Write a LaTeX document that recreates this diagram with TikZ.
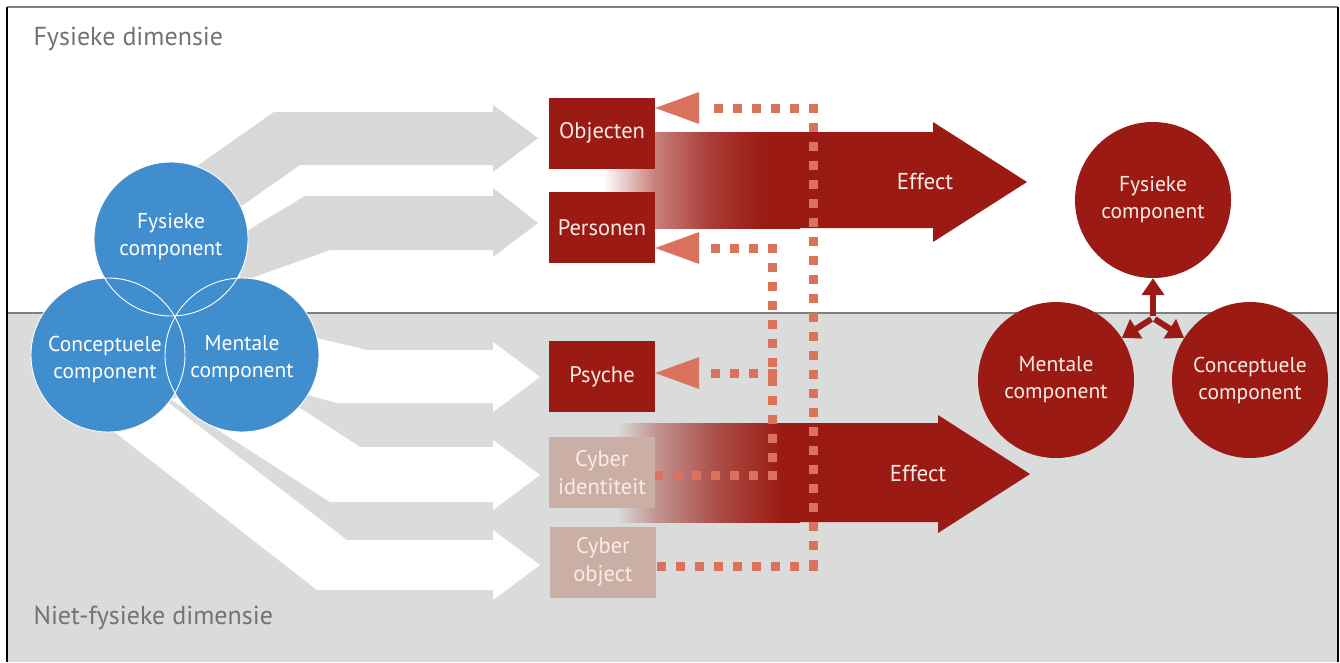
\documentclass[tikz,border=0pt]{standalone}
\usepackage{fontspec}
\setmainfont{PT Sans}
\usetikzlibrary{arrows.meta,calc}
\definecolor{bgray}{RGB}{218,219,219}
\definecolor{agray}{RGB}{216,216,216}
\definecolor{cblue}{RGB}{64,142,206}
\definecolor{dred}{RGB}{155,26,19}
\definecolor{salm}{RGB}{219,114,94}
\definecolor{cyb}{RGB}{203,174,164}
\definecolor{ttxt}{RGB}{115,115,115}
\definecolor{btxt}{RGB}{250,236,230}
\pgfdeclarehorizontalshading{fadewhite}{100bp}{color(0bp)=(white); color(25bp)=(white); color(38bp)=(dred!55!white); color(52bp)=(dred!85!white); color(66bp)=(dred); color(100bp)=(dred)}
\pgfdeclarehorizontalshading{fadegray}{100bp}{color(0bp)=(bgray); color(25bp)=(bgray); color(35bp)=(dred!35!bgray); color(53bp)=(dred!75!bgray); color(70bp)=(dred); color(100bp)=(dred)}
\begin{document}
\begin{tikzpicture}[x=1pt,y=-1pt,
  bluecirc/.style={circle, fill=cblue, minimum size=154pt, inner sep=0pt},
  bluetxt/.style={text=white, align=center, font=\fontsize{21.5}{27}\selectfont},
  redcirc/.style={circle, fill=dred, minimum size=156pt, inner sep=0pt, text=btxt, align=center, font=\fontsize{21.5}{27}\selectfont},
  redbox/.style={fill=dred, minimum width=106pt, minimum height=71pt, inner sep=0pt, text=btxt, align=center, font=\fontsize{22.5}{28}\selectfont},
  cybbox/.style={redbox, fill=cyb},
  dotline/.style={draw=salm, line width=9pt, dash pattern=on 9pt off 10pt},
  dimtxt/.style={anchor=base west, text=ttxt, font=\fontsize{26}{30}\selectfont},
  efftxt/.style={text=btxt, font=\fontsize{23}{28}\selectfont},
  triarrow/.style={draw=dred, line width=6pt, -{Triangle[length=17pt,width=22pt]}, shorten <=2pt}
]
\useasboundingbox (0,0) rectangle (1340,662);
\fill[white] (0,0) rectangle (1340,662);
% lower region
\fill[bgray] (7,313) rectangle (1338,662);
\draw[gray, line width=1.3pt] (7,313) -- (1338,313);

% left bands (upper, gray)
\fill[agray] (180,178) -- (274,112) -- (493,112) -- (493,105) -- (538,138) -- (493,172) -- (493,165) -- (300,165) -- (200,235) -- cycle;
\fill[agray] (240,235) -- (305,196) -- (493,196) -- (493,188) -- (538,223) -- (493,257) -- (493,250) -- (330,250) -- (240,282) -- cycle;
% left bands (lower, white)
\fill[white] (300,334) -- (367,350) -- (493,350) -- (493,342) -- (540,377) -- (493,412) -- (493,403) -- (337,403) -- (290,390) -- cycle;
\fill[white] (260,382) -- (360,447) -- (493,447) -- (493,440) -- (540,475) -- (493,510) -- (493,502) -- (330,502) -- (170,399) -- cycle;
\fill[white] (165,400) -- (347,540) -- (493,540) -- (493,530) -- (540,565) -- (493,600) -- (493,590) -- (317,590) -- (108,427) -- cycle;

% blue circles
\node[bluecirc] (bF) at (171,239) {};
\node[bluecirc] (bC) at (108,355) {};
\node[bluecirc] (bM) at (242,355) {};
\draw[white, line width=0.9pt] (bF.center) circle[radius=77pt] (bC.center) circle[radius=77pt] (bM.center) circle[radius=77pt];
\node[bluetxt] at (171,237) {Fysieke\\component};
\node[bluetxt] at (105,359) {Conceptuele\\component};
\node[bluetxt] at (242,359) {Mentale\\component};

% effect arrows
\fill[dred] (603,132) -- (933,132) -- (933,122) -- (1027,182) -- (933,242) -- (933,228) -- (603,228) -- cycle;
\shade[shading=fadewhite] (603,132) rectangle (800,228);
\fill[dred] (617,423) -- (938,423) -- (938,415) -- (1030,474) -- (938,533) -- (938,522) -- (617,522) -- cycle;
\shade[shading=fadegray] (617,423) rectangle (800,522);
\node[efftxt] (e1) at (925,182) {Effect};
\node[efftxt] (e2) at (918,474) {Effect};

% boxes
\node[redbox] (obj) at (602,133) {Objecten};
\node[redbox] (pers) at (602,227.5) {Personen};
\node[redbox] (psy) at (602,376.5) {Psyche};
\node[cybbox] (cid) at (602,472.5) {Cyber\\identiteit};
\node[cybbox] (cob) at (603,562) {Cyber\\object};

% dotted feedback lines
\coordinate (v1t) at (813,108);
\coordinate (v1b) at (813,566);
\coordinate (v2t) at (772,248);
\coordinate (v2b) at (772,475);
\draw[dotline] ($(v1t)+(0,-4.5)$) -- ($(v1b)+(0,4.5)$);
\draw[dotline] ($(v2t)+(0,-4.5)$) -- ($(v2b)+(0,4.5)$);
\draw[dotline] ($(v1t)+(4.5,0)$) -- ($(obj.east|-v1t)+(55,0)$);
\draw[dotline] ($(v2t)+(4.5,0)$) -- ($(pers.east|-v2t)+(55,0)$);
\draw[dotline] ($(v2t|-psy.east)+(4.5,-3.5)$) -- ($(psy.east)+(55,-3.5)$);
\draw[dotline] ($(v2b)+(4.5,0)$) -- (cid.east|-v2b);
\draw[dotline] ($(v1b)+(4.5,0)$) -- (cob.east|-v1b);
\fill[salm] (obj.east|-v1t) -- ++(44,-16) -- ++(0,32) -- cycle;
\fill[salm] (pers.east|-v2t) -- ++(44,-16) -- ++(0,32) -- cycle;
\fill[salm] ($(psy.east)+(0,-3.5)$) -- ++(44,-16) -- ++(0,32) -- cycle;

% right circles
\node[redcirc] (rF) at (1153,200) {Fysieke\\component};
\node[redcirc] (rM) at (1056,380) {Mentale\\component};
\node[redcirc] (rC) at (1250,380) {Conceptuele\\component};
\coordinate (tc) at (1153,318);
\draw[triarrow] (tc) -- (rF);
\draw[triarrow] (tc) -- (rM);
\draw[triarrow] (tc) -- (rC);

% titles
\node[dimtxt] (t1) at (30,45) {Fysieke dimensie};
\node[dimtxt] (t2) at (30,624) {Niet-fysieke dimensie};

% frame
\draw[gray, line width=1.5pt] (7,7) -- (1338,7);
\draw[black, line width=1.5pt] (7,662) -- (7,7);
\draw[black, line width=1.5pt] (1338,7) -- (1338,662);
\end{tikzpicture}
\end{document}
